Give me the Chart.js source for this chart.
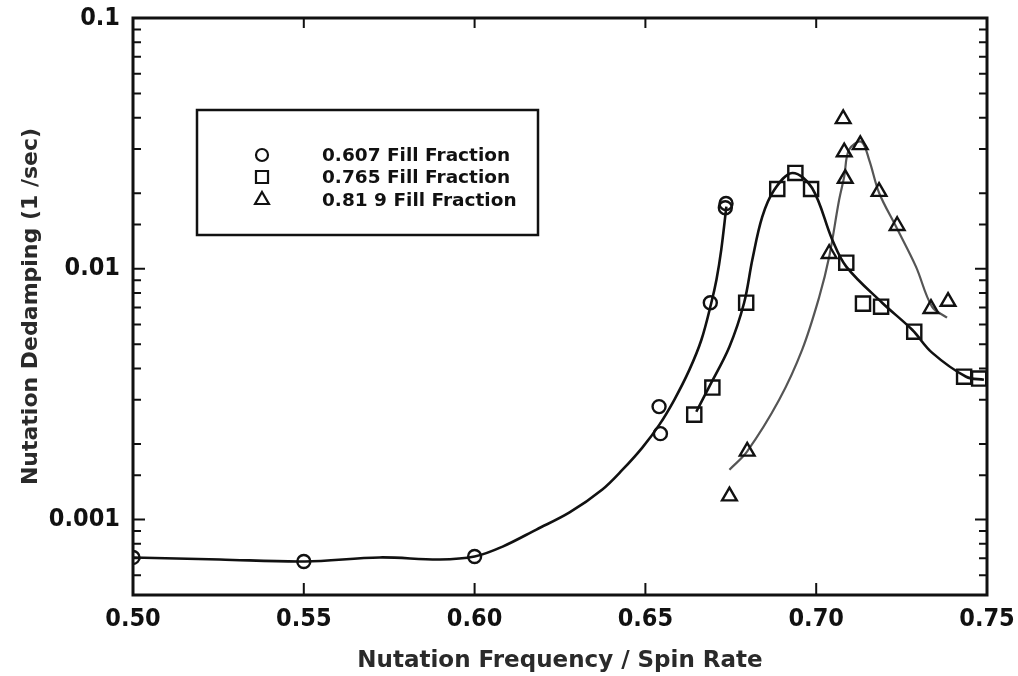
<!DOCTYPE html>
<html>
<head>
<meta charset="utf-8">
<script src="https://cdn.jsdelivr.net/npm/chart.js@4/dist/chart.umd.min.js"></script>
<style>
html,body{margin:0;padding:0;background:#fff;}
#wrap{width:1018px;height:676px;position:relative;}
</style>
</head>
<body>
<div id="wrap"><canvas id="c" width="1018" height="676"></canvas></div>
<script>
// ---- Data ----
const seriesNames = ['0.607 Fill Fraction', '0.765 Fill Fraction', '0.81 9 Fill Fraction'];

// measured points (x = nutation frequency / spin rate, y = dedamping 1/sec)
const circX = [0.500, 0.550, 0.600, 0.654, 0.6544, 0.669, 0.6734, 0.6736];
const circY = [0.000706, 0.00068, 0.000712, 0.00282, 0.0022, 0.00732, 0.0175, 0.0182];

const sqX = [0.6643, 0.6696, 0.6795, 0.6886, 0.6939, 0.6985, 0.7088, 0.7137, 0.719, 0.7287, 0.7433, 0.7477];
const sqY = [0.00262, 0.00336, 0.00732, 0.0208, 0.0241, 0.0208, 0.01057, 0.00726, 0.00706, 0.00561, 0.00371, 0.00365];

const triX = [0.6746, 0.6798, 0.7038, 0.7079, 0.7082, 0.7085, 0.7129, 0.7184, 0.7237, 0.7336, 0.7386];
const triY = [0.00124, 0.00187, 0.01148, 0.0396, 0.0292, 0.0229, 0.0312, 0.0203, 0.01484, 0.00693, 0.0074];

// smooth fitted curves
const circFitX = [0.500, 0.5254, 0.5503, 0.5722, 0.5898, 0.600, 0.6082, 0.6181, 0.6278, 0.6374, 0.6433, 0.6491, 0.6541, 0.6585, 0.6629, 0.6664, 0.6693, 0.6708, 0.6722, 0.6737];
const circFitY = [0.000706, 0.000693, 0.00068, 0.000706, 0.000693, 0.000712, 0.00078, 0.000912, 0.001067, 0.001318, 0.00158, 0.001936, 0.00239, 0.00301, 0.00396, 0.00521, 0.00732, 0.00904, 0.0119, 0.0177];

const sqFitX = [0.6649, 0.6687, 0.6746, 0.6789, 0.6813, 0.6842, 0.6877, 0.693, 0.6988, 0.7047, 0.7088, 0.7193, 0.7281, 0.7339, 0.7439, 0.7491];
const sqFitY = [0.00269, 0.00339, 0.00489, 0.00732, 0.01086, 0.0161, 0.0206, 0.0241, 0.0210, 0.01306, 0.0102, 0.00732, 0.00571, 0.00463, 0.00371, 0.00361];

const triFitX = [0.6746, 0.6798, 0.6892, 0.6959, 0.7009, 0.7038, 0.7067, 0.7082, 0.7096, 0.7132, 0.7155, 0.7184, 0.7234, 0.7292, 0.7339, 0.7383];
const triFitY = [0.00158, 0.00187, 0.00301, 0.00476, 0.00773, 0.01116, 0.0188, 0.0233, 0.0298, 0.0321, 0.0272, 0.0201, 0.0147, 0.0102, 0.00706, 0.00638];

const xTickValues = [0.50, 0.55, 0.60, 0.65, 0.70, 0.75];
const yMajorLabels = [0.1, 0.01, 0.001];

const xTitle = 'Nutation Frequency / Spin Rate';
const yTitle = 'Nutation Dedamping (1 /sec)';

// ---- helpers ----
const zip = (xs, ys) => xs.map((x, i) => ({x: x, y: ys[i]}));
const isMajor = v => yMajorLabels.some(m => Math.abs(Math.log10(v) - Math.log10(m)) < 1e-6);

const FONT_C = "'DejaVu Sans Condensed', 'DejaVu Sans', sans-serif";
const FONT = "'DejaVu Sans', sans-serif";

const framePlugin = {
  id: 'frame',
  afterDatasetsDraw(chart) {
    const {ctx, chartArea: a, scales} = chart;
    ctx.save();
    ctx.strokeStyle = '#111';
    ctx.lineCap = 'butt';
    // y ticks (log, both sides, inward)
    ctx.lineWidth = 2;
    scales.y.ticks.forEach(t => {
      const py = scales.y.getPixelForValue(t.value);
      if (py < a.top - 0.5 || py > a.bottom + 0.5) return;
      const len = isMajor(t.value) ? 12 : 8;
      ctx.beginPath();
      ctx.moveTo(a.left, py); ctx.lineTo(a.left + len, py);
      ctx.moveTo(a.right, py); ctx.lineTo(a.right - len, py);
      ctx.stroke();
    });
    // x ticks (bottom and top, inward)
    xTickValues.forEach(v => {
      const px = scales.x.getPixelForValue(v);
      ctx.beginPath();
      ctx.moveTo(px, a.bottom); ctx.lineTo(px, a.bottom - 12);
      ctx.moveTo(px, a.top); ctx.lineTo(px, a.top + 10);
      ctx.stroke();
    });
    // frame
    ctx.lineWidth = 3;
    ctx.strokeRect(a.left, a.top, a.right - a.left, a.bottom - a.top);

    // legend box
    const bx = 197, by = 110, bw = 341, bh = 125;
    ctx.lineWidth = 2.5;
    ctx.strokeRect(bx, by, bw, bh);
    const rows = [155, 177, 200];
    const styles = ['circle', 'rect', 'triangle'];
    const radii = [6, 8.5, 8];
    ctx.textBaseline = 'middle';
    ctx.textAlign = 'left';
    rows.forEach((ry, i) => {
      ctx.lineWidth = 2.2;
      ctx.strokeStyle = '#111';
      ctx.fillStyle = '#fff';
      Chart.helpers.drawPoint(ctx, {pointStyle: styles[i], radius: radii[i], borderWidth: 2.2}, 262, ry);
      ctx.fillStyle = '#111';
      ctx.font = "bold 18.5px " + FONT;
      ctx.fillText(seriesNames[i], 322, ry + 1);
    });
    ctx.restore();
  }
};

const pointDs = (label, data, style, r) => ({
  label, data, showLine: false, pointStyle: style, pointRadius: r,
  pointBackgroundColor: 'rgba(255,255,255,0)', pointBorderColor: '#111', pointBorderWidth: 2.4, order: 0
});
const fitDs = (label, data, color, w) => ({
  label, data, showLine: true, pointRadius: 0, borderColor: color, borderWidth: w,
  tension: 0.35, fill: false, order: 1
});

new Chart(document.getElementById('c'), {
  type: 'scatter',
  data: {
    datasets: [
      fitDs('fit1', zip(circFitX, circFitY), '#111', 2.6),
      fitDs('fit2', zip(sqFitX, sqFitY), '#111', 2.6),
      fitDs('fit3', zip(triFitX, triFitY), '#555', 2.2),
      pointDs(seriesNames[0], zip(circX, circY), 'circle', 6.5),
      pointDs(seriesNames[1], zip(sqX, sqY), 'rect', 10),
      pointDs(seriesNames[2], zip(triX, triY), 'triangle', 8.5)
    ]
  },
  options: {
    responsive: false,
    animation: false,
    events: [],
    layout: {padding: {top: 18, right: 31, left: 0, bottom: 0}},
    plugins: {legend: {display: false}, tooltip: {enabled: false}},
    scales: {
      x: {
        type: 'linear', min: 0.5, max: 0.75,
        afterFit: s => { s.height = 81; s.paddingLeft = 0; s.paddingRight = 0; },
        afterBuildTicks: s => { s.ticks = xTickValues.map(v => ({value: v})); },
        grid: {display: false, drawTicks: false},
        border: {display: false},
        ticks: {
          padding: 9, color: '#111', autoSkip: false, maxRotation: 0,
          font: {family: FONT_C, size: 25, weight: 'bold'},
          callback: v => v.toFixed(2)
        },
        title: {display: true, text: xTitle, color: '#2a2a2a', font: {family: FONT, size: 23, weight: 'bold'}, padding: {top: 0, bottom: 1}}
      },
      y: {
        type: 'logarithmic', min: 0.0005, max: 0.1,
        afterFit: s => { s.width = 133; s.paddingTop = 0; s.paddingBottom = 0; },
        grid: {display: false, drawTicks: false},
        border: {display: false},
        ticks: {
          padding: 13, color: '#111', autoSkip: false,
          font: {family: FONT_C, size: 25, weight: 'bold'},
          callback: v => isMajor(v) ? String(+v.toPrecision(3)) : ''
        },
        title: {display: true, text: yTitle, color: '#2a2a2a', font: {family: FONT, size: 22, weight: 'bold'}, padding: {top: 18, bottom: 0}}
      }
    }
  },
  plugins: [framePlugin]
});
</script>
</body>
</html>
